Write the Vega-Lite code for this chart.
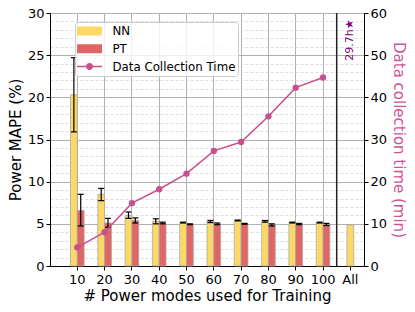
{
  "$schema": "https://vega.github.io/schema/vega-lite/v6.json",
  "width": 314,
  "height": 253,
  "autosize": {"type": "none"},
  "padding": {"left": 50, "top": 13, "right": 51, "bottom": 46},
  "config": {
    "font": "DejaVu Sans",
    "view": {"stroke": "black", "strokeWidth": 1},
    "axis": {"labelFont": "DejaVu Sans", "titleFont": "DejaVu Sans", "labelFontSize": 13, "titleFontSize": 15, "titleFontWeight": "normal", "labelColor": "black", "titleColor": "black", "domainColor": "black", "tickColor": "black", "tickSize": 4, "labelOverlap": false}
  },
  "datasets": {
    "bars": [
      {"cat": "10", "series": "NN", "mape": 20.3, "lo": 15.9, "hi": 24.7},
      {"cat": "20", "series": "NN", "mape": 8.5, "lo": 7.75, "hi": 9.2},
      {"cat": "30", "series": "NN", "mape": 6.0, "lo": 5.65, "hi": 6.4},
      {"cat": "40", "series": "NN", "mape": 5.3, "lo": 5.0, "hi": 5.6},
      {"cat": "50", "series": "NN", "mape": 5.15, "lo": 5.1, "hi": 5.2},
      {"cat": "60", "series": "NN", "mape": 5.3, "lo": 5.15, "hi": 5.4},
      {"cat": "70", "series": "NN", "mape": 5.4, "lo": 5.35, "hi": 5.45},
      {"cat": "80", "series": "NN", "mape": 5.3, "lo": 5.2, "hi": 5.4},
      {"cat": "90", "series": "NN", "mape": 5.15, "lo": 5.1, "hi": 5.2},
      {"cat": "100", "series": "NN", "mape": 5.15, "lo": 5.1, "hi": 5.2},
      {"cat": "10", "series": "PT", "mape": 6.6, "lo": 4.75, "hi": 8.5},
      {"cat": "20", "series": "PT", "mape": 5.1, "lo": 4.6, "hi": 5.65},
      {"cat": "30", "series": "PT", "mape": 5.4, "lo": 5.1, "hi": 5.7},
      {"cat": "40", "series": "PT", "mape": 5.1, "lo": 5.0, "hi": 5.2},
      {"cat": "50", "series": "PT", "mape": 4.95, "lo": 4.9, "hi": 5.0},
      {"cat": "60", "series": "PT", "mape": 5.0, "lo": 4.9, "hi": 5.1},
      {"cat": "70", "series": "PT", "mape": 5.0, "lo": 4.95, "hi": 5.05},
      {"cat": "80", "series": "PT", "mape": 4.9, "lo": 4.75, "hi": 5.0},
      {"cat": "90", "series": "PT", "mape": 5.0, "lo": 4.9, "hi": 5.05},
      {"cat": "100", "series": "PT", "mape": 4.95, "lo": 4.8, "hi": 5.05}
    ],
    "allbar": [{"cat": "All", "series": "NN", "mape": 4.85}],
    "time": [
      {"cat": "10", "series": "Data Collection Time", "minutes": 4.4},
      {"cat": "20", "series": "Data Collection Time", "minutes": 8.0},
      {"cat": "30", "series": "Data Collection Time", "minutes": 14.9},
      {"cat": "40", "series": "Data Collection Time", "minutes": 18.2},
      {"cat": "50", "series": "Data Collection Time", "minutes": 21.9},
      {"cat": "60", "series": "Data Collection Time", "minutes": 27.3},
      {"cat": "70", "series": "Data Collection Time", "minutes": 29.4},
      {"cat": "80", "series": "Data Collection Time", "minutes": 35.5},
      {"cat": "90", "series": "Data Collection Time", "minutes": 42.3},
      {"cat": "100", "series": "Data Collection Time", "minutes": 44.7}
    ],
    "note": [{"cat": "All", "mape": 26.8, "label": "29.7h★"}],
    "divider": [{"cat": "All"}]
  },
  "encoding": {
    "x": {
      "field": "cat", "type": "ordinal",
      "scale": {"domain": ["10", "20", "30", "40", "50", "60", "70", "80", "90", "100", "All"], "paddingInner": 0, "paddingOuter": 0.25, "align": 1},
      "axis": {"title": "# Power modes used for Training", "labelAngle": 0, "grid": true, "gridColor": "#b0b0b0", "gridWidth": 1, "gridOpacity": {"condition": {"test": "datum.value === 'All'", "value": 0}, "value": 1}, "labelPadding": 3, "titlePadding": 2}
    }
  },
  "layer": [
    {
      "data": {"name": "bars"},
      "mark": {"type": "point", "opacity": 0},
      "encoding": {
        "y": {
          "field": "mape", "type": "quantitative",
          "scale": {"domain": [0, 30], "nice": false},
          "axis": {"orient": "left", "title": null, "values": [1,2,3,4,6,7,8,9,11,12,13,14,16,17,18,19,21,22,23,24,26,27,28,29], "labels": false, "ticks": false, "domain": false, "grid": true, "gridColor": "#d6d6d6", "gridDash": [3, 2], "gridWidth": 0.8}
        }
      }
    },
    {
      "layer": [
        {
          "data": {"name": "bars"},
          "mark": {"type": "bar", "stroke": "#aaaaaa", "strokeWidth": 0.8, "opacity": 1},
          "encoding": {
            "xOffset": {"field": "series", "type": "nominal", "scale": {"domain": ["NN", "PT"], "paddingInner": 0, "paddingOuter": 1}},
            "y": {
              "field": "mape", "type": "quantitative",
              "scale": {"domain": [0, 30], "nice": false},
              "axis": {"orient": "left", "title": "Power MAPE (%)", "values": [0, 5, 10, 15, 20, 25, 30], "grid": true, "gridColor": "#b0b0b0", "gridWidth": 1, "titlePadding": 4}
            },
            "color": {
              "field": "series", "type": "nominal",
              "scale": {"domain": ["NN", "PT", "Data Collection Time"], "range": ["#fcd867", "#e06666", "#c8508e"]},
              "legend": {"title": null, "orient": "none", "legendX": 25, "legendY": 9, "padding": 2, "symbolSize": 196, "symbolOffset": 5.5, "labelOffset": 16, "rowPadding": 3.75, "labelFontSize": 11.8, "labelFont": "DejaVu Sans", "labelColor": "black", "fillColor": "rgba(255,255,255,0.8)", "strokeColor": "#cccccc", "cornerRadius": 3, "symbolStrokeWidth": 0, "symbolOpacity": 1}
            }
          }
        },
        {
          "data": {"name": "allbar"},
          "mark": {"type": "bar", "stroke": "#aaaaaa", "strokeWidth": 0.8, "opacity": 1, "width": {"band": 0.25}},
          "encoding": {
            "y": {"field": "mape", "type": "quantitative"},
            "color": {"field": "series", "type": "nominal"}
          }
        },
        {
          "data": {"name": "bars"},
          "mark": {"type": "rule", "color": "black", "strokeWidth": 1.2, "opacity": 1},
          "encoding": {
            "xOffset": {"field": "series", "type": "nominal"},
            "y": {"field": "lo", "type": "quantitative"},
            "y2": {"field": "hi"}
          }
        },
        {
          "data": {"name": "bars"},
          "mark": {"type": "tick", "color": "black", "size": 6, "thickness": 1.2, "opacity": 1},
          "encoding": {
            "xOffset": {"field": "series", "type": "nominal"},
            "y": {"field": "lo", "type": "quantitative"}
          }
        },
        {
          "data": {"name": "bars"},
          "mark": {"type": "tick", "color": "black", "size": 6, "thickness": 1.2, "opacity": 1},
          "encoding": {
            "xOffset": {"field": "series", "type": "nominal"},
            "y": {"field": "hi", "type": "quantitative"}
          }
        },
        {
          "data": {"name": "note"},
          "mark": {"type": "text", "angle": 270, "color": "#800080", "fontSize": 11, "align": "center", "baseline": "middle", "font": "DejaVu Sans"},
          "encoding": {
            "y": {"field": "mape", "type": "quantitative"},
            "text": {"field": "label"}
          }
        },
        {
          "data": {"name": "divider"},
          "mark": {"type": "rule", "color": "#222222", "strokeWidth": 1.5},
          "encoding": {"x": {"field": "cat", "type": "ordinal", "bandPosition": 0}}
        }
      ]
    },
    {
      "data": {"name": "time"},
      "encoding": {
        "y": {
          "field": "minutes", "type": "quantitative",
          "scale": {"domain": [0, 60], "nice": false},
          "axis": {"orient": "right", "title": "Data collection time (min)", "titleColor": "#d05597", "values": [0, 10, 20, 30, 40, 50, 60], "grid": true, "gridColor": "#b0b0b0", "gridWidth": 1, "titlePadding": 4}
        },
        "color": {"field": "series", "type": "nominal"}
      },
      "layer": [
        {"mark": {"type": "line", "strokeWidth": 1.5, "opacity": 1}},
        {"mark": {"type": "point", "filled": true, "size": 40, "opacity": 1}},
        {
          "mark": {"type": "point", "filled": true, "opacity": 0},
          "encoding": {
            "shape": {"field": "series", "type": "nominal", "scale": {"domain": ["NN", "PT", "Data Collection Time"], "range": ["M-1.786,-0.643H1.786V0.643H-1.786Z", "M-1.786,-0.643H1.786V0.643H-1.786Z", "M-1.786,-0.107H1.786V0.107H-1.786Z M0.5,0A0.5,0.5,0,1,1,-0.5,0A0.5,0.5,0,1,1,0.5,0Z"]}, "legend": {"title": null, "orient": "none", "legendX": 25, "legendY": 9, "padding": 2, "symbolSize": 196, "symbolOffset": 5.5, "labelOffset": 16, "rowPadding": 3.75, "labelFontSize": 11.8, "labelFont": "DejaVu Sans", "labelColor": "black", "fillColor": "rgba(255,255,255,0.8)", "strokeColor": "#cccccc", "cornerRadius": 3, "symbolStrokeWidth": 0, "symbolOpacity": 1}}
          }
        }
      ]
    }
  ],
  "resolve": {"scale": {"y": "independent"}}
}
